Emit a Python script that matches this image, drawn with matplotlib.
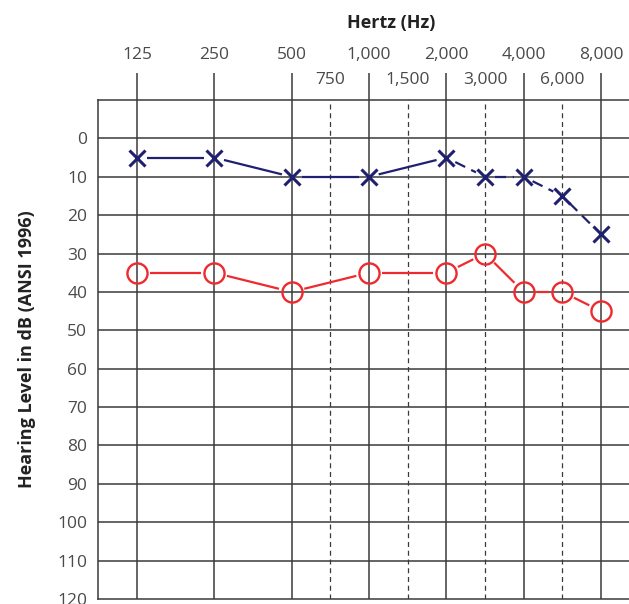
import numpy as np
import matplotlib
matplotlib.use('Agg')
import matplotlib.pyplot as plt

plt.rcParams['font.family'] = ['Open Sans', 'DejaVu Sans']

octave_freqs = [125, 250, 500, 1000, 2000, 4000, 8000]
mid_freqs = [750, 1500, 3000, 6000]
freqs = [125, 250, 500, 1000, 2000, 3000, 4000, 6000, 8000]
right_ear = [5, 5, 10, 10, 5, 10, 10, 15, 25]      # blue X
left_ear = [35, 35, 40, 35, 35, 30, 40, 40, 45]     # red O
db_ticks = list(range(0, 121, 10))

def fpos(f):
    # audiogram spacing: octaves evenly spaced, inter-octave freqs halfway
    return np.round(np.log2(np.asarray(f) / 125.0) * 2) / 2

def fmt(f):
    return '{:,}'.format(f)

fig = plt.figure(figsize=(6.29, 6.04), dpi=100)
ax = fig.add_axes([98.3 / 629, 5 / 604, 541.3 / 629, 499 / 604])
ax.set_xlim(-0.5, 6.5)
ax.set_ylim(120, -10)

gridc = '#3a3a3a'
for x in fpos(octave_freqs):
    ax.axvline(x, color=gridc, lw=1.1, zorder=1)
for x in fpos(mid_freqs):
    ax.axvline(x, color=gridc, lw=0.9, ls=(0, (4, 3)), zorder=1)
for y in db_ticks[:-1]:
    ax.axhline(y, color=gridc, lw=1.1, zorder=1)

for s in ax.spines.values():
    s.set_color(gridc)
    s.set_linewidth(1.1)

ax.xaxis.tick_top()
ax.set_xticks(fpos(octave_freqs))
ax.set_xticklabels([fmt(f) for f in octave_freqs])
ax.set_xticks(fpos(mid_freqs), minor=True)
ax.set_xticklabels([fmt(f) for f in mid_freqs], minor=True)
ax.tick_params(axis='x', which='major', length=19.5, width=1.1, color=gridc,
               pad=7, labelsize=12.5, labelcolor='#4a4a4a', top=True, bottom=False)
ax.tick_params(axis='x', which='minor', length=0, pad=8.6,
               labelsize=12.5, labelcolor='#4a4a4a', top=True, bottom=False)
ax.set_yticks(db_ticks)
ax.tick_params(axis='y', length=0, pad=8, labelsize=12.5, labelcolor='#4a4a4a')

ax.set_xlabel('Hertz (Hz)', fontsize=13, fontweight='bold', color='#222222')
ax.xaxis.set_label_position('top')
ax.xaxis.set_label_coords((391 - 98.3) / 541.3, 1.145)
ax.set_ylabel('Hearing Level in dB (ANSI 1996)', fontsize=13, fontweight='bold',
              color='#222222', labelpad=15)


def gapped(xs, ys, gap, color, styles):
    # draw each segment shortened so it stops short of the markers
    pts = ax.transData.transform(np.column_stack([xs, ys]))
    inv = ax.transData.inverted()
    for i in range(len(pts) - 1):
        p, q = pts[i], pts[i + 1]
        d = q - p
        n = np.hypot(*d)
        if n <= 2 * gap:
            continue
        u = d / n
        a = inv.transform(p + u * gap)
        b = inv.transform(q - u * gap)
        ax.plot([a[0], b[0]], [a[1], b[1]], color=color, lw=1.6,
                ls=styles[i], zorder=3, solid_capstyle='butt', dash_capstyle='butt')


blue = '#1f2170'
red = '#ee2a2f'
xs = fpos(freqs)
gapped(xs, right_ear, 10, blue, ['-', '-', '-', '-', (0, (5, 3)), (0, (5, 3)), (0, (5, 3)), (0, (5, 3))])
gapped(xs, left_ear, 13, red, ['-'] * 8)
ax.plot(xs, right_ear, 'x', ms=12, mew=2.2, color=blue, zorder=4, ls='none')
ax.plot(xs, left_ear, 'o', ms=14.5, mew=1.7, mec=red, mfc='none', zorder=4, ls='none')

fig.savefig('out.png', dpi=100)
